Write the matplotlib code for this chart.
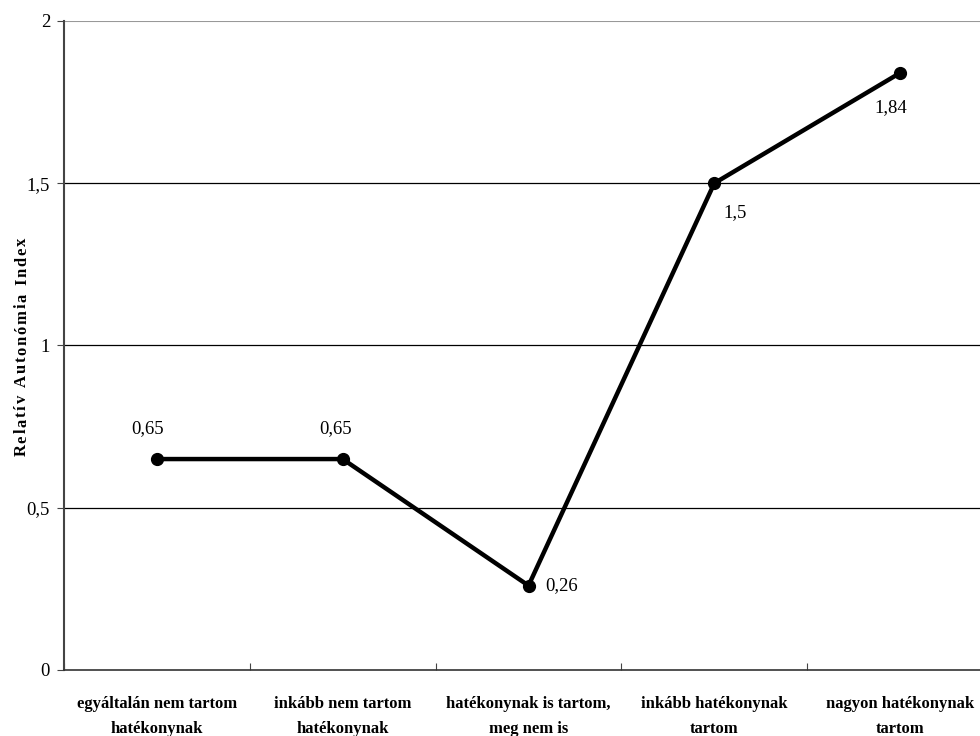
import matplotlib
matplotlib.use("Agg")
import matplotlib.pyplot as plt
from matplotlib.font_manager import FontProperties, findfont, get_font

plt.rcParams['font.family'] = ['Liberation Serif', 'DejaVu Serif']

categories = ["egyáltalán nem tartom\nhatékonynak",
              "inkább nem tartom\nhatékonynak",
              "hatékonynak is tartom,\nmeg nem is",
              "inkább hatékonynak\ntartom",
              "nagyon hatékonynak\ntartom"]
values = [0.65, 0.65, 0.26, 1.5, 1.84]
value_labels = ["0,65", "0,65", "0,26", "1,5", "1,84"]
yticks = [0, 0.5, 1, 1.5, 2]
ytick_labels = ["0", "0,5", "1", "1,5", "2"]
ylabel = "Relatív Autonómia Index"

fig = plt.figure(figsize=(9.8, 7.36), dpi=100)
ax = fig.add_axes([0.0653, 0.0897, 0.948, 0.8818])

x = list(range(len(values)))
ax.plot(x, values, color='black', linewidth=3.2, marker='o', markersize=8.5,
        solid_capstyle='round', zorder=3, clip_on=False)

# adatcímkék helye (pont eltolás)
offsets = [(-7, 22, 'center'), (-5, 22, 'center'), (12, 0, 'left'),
           (6.5, -21.5, 'left'), (-6.5, -25, 'center')]
for xi, v, lab, (dx, dy, ha) in zip(x, values, value_labels, offsets):
    ax.annotate(lab, (xi, v), xytext=(dx, dy), textcoords='offset points',
                ha=ha, va='center', fontsize=13.5)

ax.set_xlim(-0.5, 4.5)
ax.set_ylim(0, 2)
ax.set_yticks(yticks)
ax.set_yticklabels(ytick_labels, fontsize=13.5)
ax.set_xticks([i + 0.5 for i in range(-1, 5)], minor=False)
ax.set_xticklabels([])
ax.set_xticks(x, minor=True)
ax.set_xticklabels(categories, minor=True, fontsize=12, fontweight='bold',
                   linespacing=1.7)
ax.tick_params(axis='x', which='minor', length=0, pad=19)
ax.tick_params(axis='x', which='major', length=5, direction='in', color='#444444')
ax.tick_params(axis='y', length=5, direction='out', color='#444444', pad=5)

for yv in yticks[1:-1]:
    ax.axhline(yv, color='black', linewidth=0.9, zorder=1)
ax.axhline(2, color='#999999', linewidth=1.5, zorder=1)

ax.spines['top'].set_visible(False)
ax.spines['right'].set_visible(False)
ax.spines['left'].set_color('#444444')
ax.spines['left'].set_linewidth(1.5)
ax.spines['bottom'].set_color('#333333')
ax.spines['bottom'].set_linewidth(1.2)

# ritkított betűközű tengelyfelirat, karakterenként (glyph advance alapján)
fs = 12
spacing = 1.8  # px
fp = FontProperties(family='Liberation Serif', weight='bold', size=fs)
font = get_font(findfont(fp))
font.set_size(fs, fig.dpi)
advances = []
for ch in ylabel:
    g = font.load_char(ord(ch))
    advances.append(g.linearHoriAdvance / 65536)
total = sum(advances) + spacing * (len(ylabel) - 1)
H = fig.get_figheight() * fig.dpi
ypos = (736 - 347) - total / 2
for ch, adv in zip(ylabel, advances):
    if ch != ' ':
        fig.text(26 / 980, ypos / H, ch, rotation=90, rotation_mode='anchor',
                 fontproperties=fp, ha='left', va='baseline')
    ypos += adv + spacing

fig.savefig("out.png", dpi=100)
